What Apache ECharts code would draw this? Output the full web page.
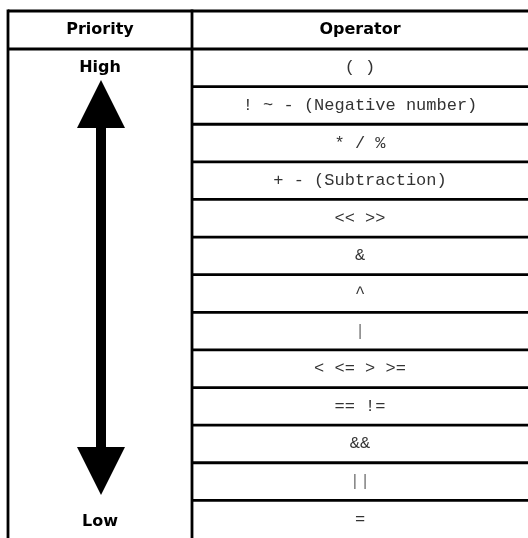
<!DOCTYPE html>
<html>
<head>
<meta charset="utf-8">
<script src="https://cdn.jsdelivr.net/npm/echarts@6/dist/echarts.min.js"></script>
<style>html,body{margin:0;padding:0;background:#fff;}#c{width:528px;height:538px;}</style>
</head>
<body>
<div id="c"></div>
<script>
const headers = ['Priority', 'Operator'];
const priorityLabels = ['High', 'Low'];
const operators = ['( )', '! ~ - (Negative number)', '* / %', '+ - (Subtraction)', '<< >>', '&', '^', '|', '< <= > >=', '== !=', '&&', '||', '='];
const rowIndex = operators.map(function (_, i) { return i; });

const chart = echarts.init(document.getElementById('c'), null, { renderer: 'canvas' });

const L = 8, D = 192, R = 528, TOP = 11, HB = 49, ROWH = 37.7;
const LW = 2.8;
const boldFont = 'bold 16px "DejaVu Sans", Verdana, sans-serif';
const monoFont = '17px "Liberation Mono", "Courier New", monospace';

const option = {
  animation: false,
  backgroundColor: '#ffffff',
  grid: { left: D, top: HB, width: R - D, height: ROWH * operators.length, containLabel: false },
  xAxis: { type: 'value', min: 0, max: 1, show: false },
  yAxis: { type: 'category', data: operators, inverse: true, show: false },
  series: [{
    type: 'custom',
    data: rowIndex.map(function (i) { return [0.5, i]; }),
    renderItem: function (params, api) {
      const c = api.coord([0.5, api.value(1)]);
      const h = api.size([0, 1])[1];
      const txt = operators[api.value(1)];
      const children = [{
        type: 'text',
        style: { text: txt, x: c[0], y: c[1], textAlign: 'center', textVerticalAlign: 'middle', font: monoFont, fill: (txt === '|' || txt === '||') ? '#777' : '#333' }
      }];
      if (api.value(1) > 0) {
        children.push({
          type: 'line',
          shape: { x1: D, y1: c[1] - h / 2, x2: R, y2: c[1] - h / 2 },
          style: { stroke: '#000', lineWidth: LW }
        });
      }
      return { type: 'group', children: children };
    }
  }],
  graphic: [
    { type: 'line', shape: { x1: L, y1: TOP, x2: R, y2: TOP }, style: { stroke: '#000', lineWidth: LW } },
    { type: 'line', shape: { x1: L, y1: HB, x2: R, y2: HB }, style: { stroke: '#000', lineWidth: LW } },
    { type: 'line', shape: { x1: L, y1: TOP - LW / 2, x2: L, y2: 540 }, style: { stroke: '#000', lineWidth: LW } },
    { type: 'line', shape: { x1: D, y1: TOP - LW / 2, x2: D, y2: 540 }, style: { stroke: '#000', lineWidth: LW } },
    { type: 'text', style: { text: headers[0], x: (L + D) / 2, y: (TOP + HB) / 2, textAlign: 'center', textVerticalAlign: 'middle', font: boldFont, fill: '#000' } },
    { type: 'text', style: { text: headers[1], x: (D + R) / 2, y: (TOP + HB) / 2, textAlign: 'center', textVerticalAlign: 'middle', font: boldFont, fill: '#000' } },
    { type: 'text', style: { text: priorityLabels[0], x: (L + D) / 2, y: HB + ROWH / 2, textAlign: 'center', textVerticalAlign: 'middle', font: boldFont, fill: '#000' } },
    { type: 'text', style: { text: priorityLabels[1], x: (L + D) / 2, y: 522, textAlign: 'center', textVerticalAlign: 'middle', font: boldFont, fill: '#000' } },
    { type: 'polygon', shape: { points: [[101, 80], [77, 128], [96, 128], [96, 447], [77, 447], [101, 495], [125, 447], [106, 447], [106, 128], [125, 128]] }, style: { fill: '#000' } }
  ]
};
chart.setOption(option);
</script>
</body>
</html>
